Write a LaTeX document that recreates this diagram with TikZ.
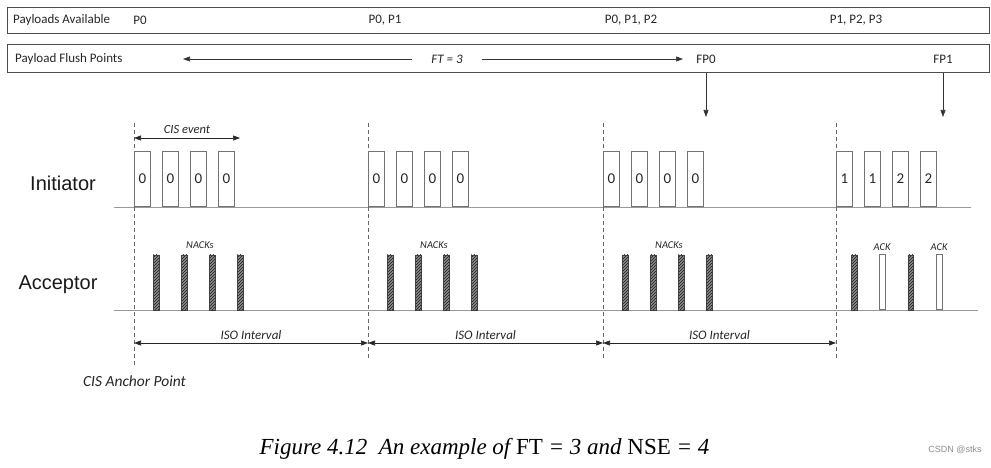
\documentclass[tikz,border=0pt]{standalone}
\usepackage{fontspec}
\setmainfont{Carlito}
\newfontfamily\rowfont{Liberation Sans}
\newfontfamily\capfont{Liberation Serif}
\usetikzlibrary{
    arrows.meta,
    patterns,
    positioning
}

\begin{document}
\begin{tikzpicture}[x=1pt,y=-1pt,
    >={Triangle[length=7pt,width=5pt]},
    frame/.style={draw=black!70, line width=1.1pt, inner sep=0pt, anchor=north west},
    txt/.style={font=\fontsize{13}{15}\selectfont, text=black!85, inner sep=0pt},
    itxt/.style={txt, font=\fontsize{13}{15}\selectfont\itshape},
    small/.style={txt, font=\fontsize{10.5}{12}\selectfont\itshape},
    pkt/.style={draw=black!55, line width=0.9pt, minimum width=16pt, minimum height=55pt,
        inner sep=0pt, anchor=south west, text=black!85, font=\fontsize{15}{17}\selectfont},
    nack/.style={draw=black!75, line width=0.5pt, minimum width=5.5pt, minimum height=55pt,
        inner sep=0pt, anchor=south west, preaction={fill=black!45},
        pattern=north east lines, pattern color=black!90},
    ackbar/.style={draw=black!55, line width=0.7pt, fill=white, minimum width=5.5pt,
        minimum height=55pt, inner sep=0pt, anchor=south west},
    anchorline/.style={dashed, dash pattern=on 4pt off 3pt, draw=black!60, line width=0.7pt},
    baseline/.style={draw=black!40, line width=1pt},
    dim/.style={<->, line width=0.6pt, draw=black!85}
]

\useasboundingbox (0,0) rectangle (991,468);

\def\yI{207}
\def\yA{310}
\def\yD{343}

% Top frames
\node[frame, minimum width=982pt, minimum height=26pt] (avail) at (7,7) {};
\node[frame, minimum width=982pt, minimum height=28pt] (flush) at (7,44) {};

% Payloads available
\node[txt, anchor=west] (availtxt) at (13,20) {Payloads Available};
\node[txt] (pa1) at (140,20) {P0};
\node[txt] (pa2) at (385,20) {P0, P1};
\node[txt] (pa3) at (631,20) {P0, P1, P2};
\node[txt] (pa4) at (856,20) {P1, P2, P3};

% Flush points
\node[txt, anchor=west] (flushtxt) at (15,59) {Payload Flush Points};
\node[itxt, inner xsep=19pt] (ft) at (447,59) {FT = 3};
\coordinate (ftL) at (183,59);
\coordinate (ftR) at (683,59);
\draw[->, line width=0.6pt, black!80] (ft.west) -- (ftL);
\draw[->, line width=0.6pt, black!80] (ft.east) -- (ftR);
\node[txt] (fp0) at (706,59) {FP0};
\node[txt] (fp1) at (943,59) {FP1};
\coordinate (fp0end) at (706,117);
\coordinate (fp1end) at (943,117);
\draw[->, line width=0.6pt, black!80] (fp0 |- flush.south) -- (fp0end);
\draw[->, line width=0.6pt, black!80] (fp1 |- flush.south) -- (fp1end);

% Row names
\node[font=\rowfont\fontsize{20}{24}\selectfont, text=black!90] (init) at (63,183) {Initiator};
\node[font=\rowfont\fontsize{20}{24}\selectfont, text=black!90] (acc) at (58,285) {Acceptor};

% Time lines
\draw[baseline] (114,\yI) -- (971,\yI);
\draw[baseline] (114,\yA) -- (978,\yA);

% Anchor points
\draw[anchorline] (134,123) -- (134,367);
\foreach \x in {368,603,836}
    \draw[anchorline] (\x,123) -- (\x,358);
\foreach \x [count=\i] in {134,368,603,836}
    \coordinate (a\i) at (\x,\yD);

% CIS event
\coordinate (cisA) at (134,138);
\coordinate (cisB) at (240,138);
\draw[dim] (cisA) -- (cisB) node[midway, above=4pt, itxt, font=\fontsize{12.5}{14}\selectfont\itshape] {CIS event};

% Initiator packets
\foreach \g/\x in {1/134,2/368,3/603}
    \foreach \k in {0,...,3}
        \node[pkt] (i\g\k) at (\x+28*\k,\yI) {0};
\foreach \k/\d in {0/1,1/1,2/2,3/2}
    \node[pkt] (i4\k) at (836+28*\k,\yI) {\d};

% Acceptor responses
\foreach \g/\x in {1/134,2/368,3/603} {
    \foreach \k in {0,...,3}
        \node[nack] (n\g\k) at (\x+19+28*\k,\yA) {};
    \node[small] (nl\g) at (\x+66,245) {NACKs};
}
\node[nack] (n40) at (851,\yA) {};
\node[ackbar] (n41) at (879,\yA) {};
\node[nack] (n42) at (907.5,\yA) {};
\node[ackbar] (n43) at (936,\yA) {};
\node[small, above=4pt of n41] (ack1) {ACK};
\node[small, above=4pt of n43] (ack2) {ACK};

% ISO intervals
\draw[dim] (a1) -- (a2) node[midway, above=3.5pt, itxt] {ISO Interval};
\draw[dim] (a2) -- (a3) node[midway, above=3.5pt, itxt] {ISO Interval};
\draw[dim] (a3) -- (a4) node[midway, above=3.5pt, itxt] {ISO Interval};

\node[itxt, font=\fontsize{15.5}{18}\selectfont\itshape] (cap0) at (134.5,381) {CIS Anchor Point};

% Caption
\node[font=\capfont\fontsize{23}{26}\selectfont, anchor=base, inner sep=0pt] (cap) at (484.5,454)
    {\itshape Figure 4.12\ \ An example of \upshape FT \itshape = 3 and \upshape NSE \itshape = 4};
\node[font=\rowfont\fontsize{9}{10}\selectfont, text=black!45, inner sep=0pt] (wm) at (955,450) {CSDN @stks};

\end{tikzpicture}
\end{document}
